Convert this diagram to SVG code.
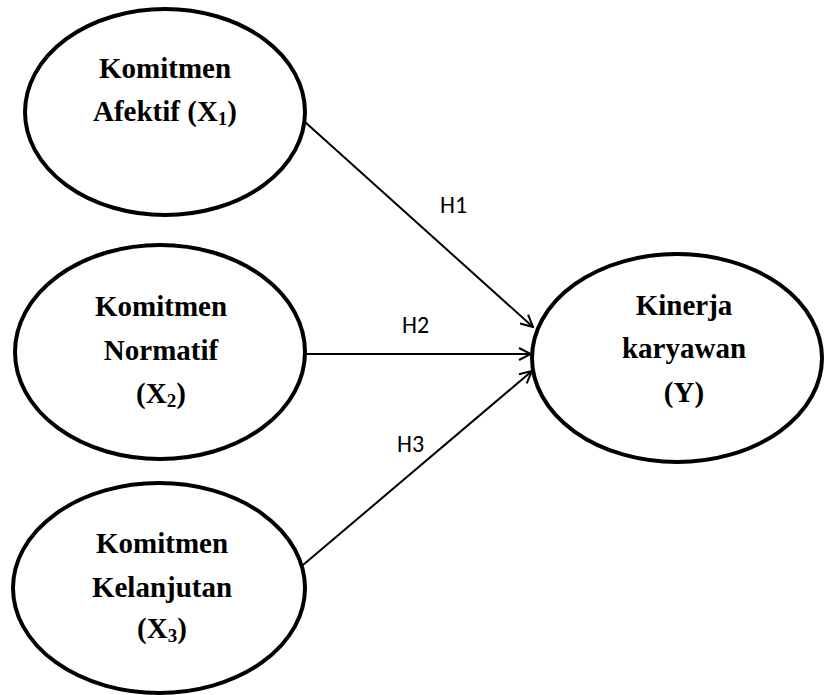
<svg xmlns="http://www.w3.org/2000/svg" width="825" height="695" viewBox="0 0 825 695">
<style>
.node ellipse{fill:#fff;stroke:#000;stroke-width:4}
.t{font-family:"Liberation Serif","Times New Roman",serif;font-weight:bold;font-size:29px;text-anchor:middle;fill:#000}
.sub{font-size:19px}
.lbl{font-family:Carlito,"Liberation Sans",Arial,sans-serif;font-size:24px;fill:#000}
.edge{stroke:#000;stroke-width:2;fill:none;marker-end:url(#ah)}
</style>
<defs>
<marker id="ah" viewBox="0 0 14 14" refX="13" refY="7" markerWidth="14" markerHeight="14" markerUnits="userSpaceOnUse" orient="auto">
<path d="M1,1 L13,7 L1,13" fill="none" stroke="#000" stroke-width="2"/>
</marker>
</defs>
<rect width="825" height="695" fill="#fff"/>
<g id="x1" class="node">
<ellipse cx="165" cy="112" rx="140" ry="103"/>
<text class="t" x="165" y="78">Komitmen</text>
<text class="t" x="165" y="121">Afektif (X<tspan class="sub" dy="4">1</tspan><tspan dy="-4">)</tspan></text>
</g>
<g id="x2" class="node">
<ellipse cx="160" cy="352" rx="145" ry="107"/>
<text class="t" x="161" y="316">Komitmen</text>
<text class="t" x="161" y="360">Normatif</text>
<text class="t" x="161" y="403">(X<tspan class="sub" dy="4">2</tspan><tspan dy="-4">)</tspan></text>
</g>
<g id="x3" class="node">
<ellipse cx="159" cy="588" rx="146" ry="105"/>
<text class="t" x="162" y="553">Komitmen</text>
<text class="t" x="162" y="597">Kelanjutan</text>
<text class="t" x="162" y="638">(X<tspan class="sub" dy="4">3</tspan><tspan dy="-4">)</tspan></text>
</g>
<g id="y" class="node">
<ellipse cx="677" cy="358" rx="145" ry="104"/>
<text class="t" x="684" y="315">Kinerja</text>
<text class="t" x="684" y="358">karyawan</text>
<text class="t" x="684" y="402">(Y)</text>
</g>
<g id="connectors">
<line class="edge" x1="305" y1="122" x2="533" y2="327"/>
<line class="edge" x1="305" y1="354" x2="531" y2="354"/>
<line class="edge" x1="303" y1="565" x2="532" y2="371"/>
<text class="lbl" x="440" y="213">H1</text>
<text class="lbl" x="402" y="333">H2</text>
<text class="lbl" x="397" y="452">H3</text>
</g>
</svg>
